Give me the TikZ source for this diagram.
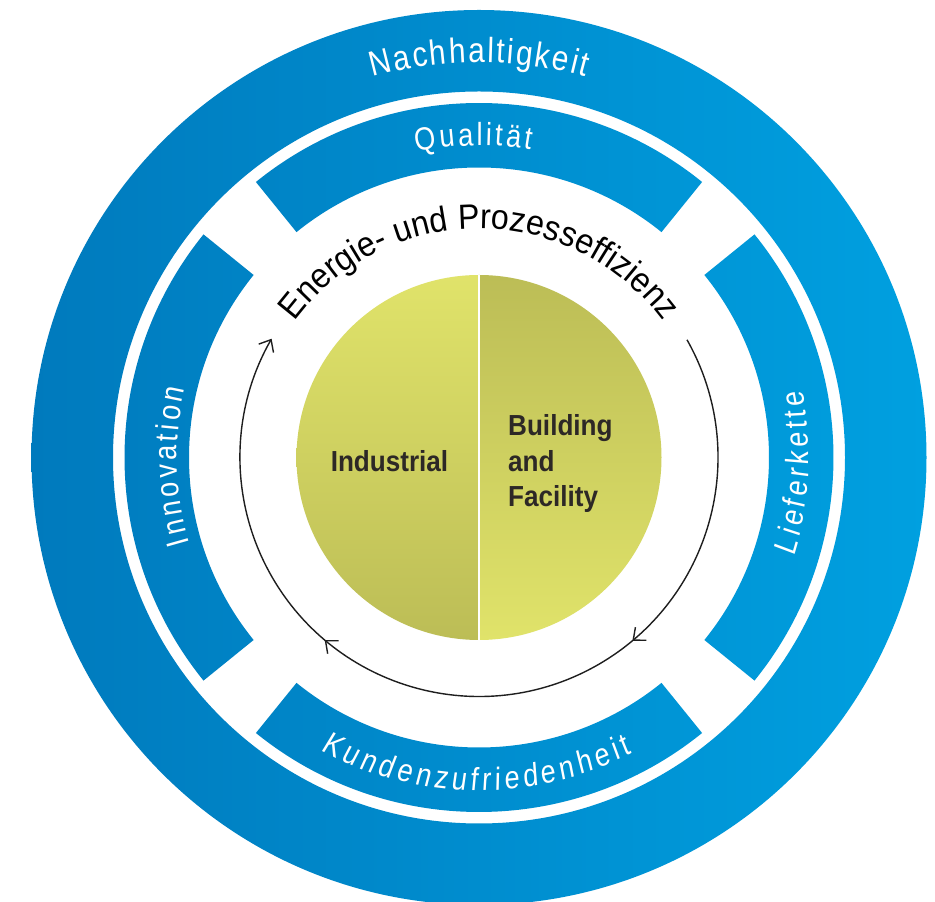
\documentclass[tikz,border=0pt]{standalone}
\usepackage{fontspec}
\setmainfont{Liberation Sans}
\newfontfamily\fRing[FakeStretch=0.85]{Liberation Sans}
\newfontfamily\fRingSl[FakeStretch=0.85,FakeSlant=0.08]{Liberation Sans}
\newfontfamily\fEner[FakeStretch=0.92]{Liberation Sans}
\newfontfamily\condbold[FakeStretch=0.9]{Liberation Sans}
\newcommand\lsNach{\kern2.2pt}
\newcommand\lsQual{\kern3.0pt}
\newcommand\lsInno{\kern3.4pt}
\newcommand\lsLief{\kern4.0pt}
\newcommand\lsKund{\kern4.1pt}
\usetikzlibrary{decorations.text,decorations.markings,arrows.meta}
\definecolor{blueL}{RGB}{0,122,189}
\definecolor{blueR}{RGB}{0,160,224}
\definecolor{greenL}{RGB}{224,227,106}
\definecolor{greenD}{RGB}{188,189,86}
\definecolor{txtdark}{RGB}{45,40,38}
\definecolor{arcink}{RGB}{30,30,30}
\tikzset{
  cyclebarb/.tip={Straight Barb[length=10pt,width=17pt]},
  cyclearc/.style={draw=arcink,line width=1.4pt},
  centertxt/.style={font=\condbold\bfseries\fontsize{29}{35.5}\selectfont,text=txtdark,inner sep=0pt},
}
\begin{document}
\begin{tikzpicture}[x=1pt,y=1pt]
\useasboundingbox (0,0) rectangle (935,902);
\clip (0,0) rectangle (935,902);
\fill[white] (0,0) rectangle (935,902);
\begin{scope}[shift={(479,444.5)}]
  % blue rings
  \begin{scope}[even odd rule]
    \clip (0,0) circle[radius=447.5] (0,0) circle[radius=366]
      (51:354.5) arc[start angle=51,end angle=129,radius=354.5] -- (129:290) arc[start angle=129,end angle=51,radius=290] -- cycle
      (141:354.5) arc[start angle=141,end angle=219,radius=354.5] -- (219:290) arc[start angle=219,end angle=141,radius=290] -- cycle
      (231:354.5) arc[start angle=231,end angle=309,radius=354.5] -- (309:290) arc[start angle=309,end angle=231,radius=290] -- cycle
      (321:354.5) arc[start angle=321,end angle=399,radius=354.5] -- (399:290) arc[start angle=399,end angle=321,radius=290] -- cycle;
    \shade[left color=blueL,right color=blueR] (-448,-448) rectangle (448,448);
  \end{scope}
  % ring texts
  \path[decorate,decoration={text along path,text align=center,
     text={|\fRing\fontsize{35}{35}\selectfont\color{white}|N{\lsNach}a{\lsNach}c{\lsNach}h{\lsNach}h{\lsNach}a{\lsNach}l{\lsNach}t{\lsNach}i{\lsNach}g{\lsNach}k{\lsNach}e{\lsNach}i{\lsNach}t}}]
     (130:395) arc[start angle=130,end angle=50,radius=395];
  \path[decorate,decoration={text along path,text align=center,
     text={|\fRing\fontsize{32}{32}\selectfont\color{white}|Q{\lsQual}u{\lsQual}a{\lsQual}l{\lsQual}i{\lsQual}t{\lsQual}ä{\lsQual}t}}]
     (131:312) arc[start angle=131,end angle=51,radius=312];
  \path[decorate,decoration={text along path,text align=center,
     text={|\fRing\fontsize{32}{32}\selectfont\color{white}|I{\lsInno}n{\lsInno}n{\lsInno}o{\lsInno}v{\lsInno}a{\lsInno}t{\lsInno}i{\lsInno}o{\lsInno}n}}]
     (221.7:302) arc[start angle=221.7,end angle=141.7,radius=302];
  \path[decorate,decoration={text along path,text align=center,
     text={|\fRingSl\fontsize{32}{32}\selectfont\color{white}|L{\lsLief}i{\lsLief}e{\lsLief}f{\lsLief}e{\lsLief}r{\lsLief}k{\lsLief}e{\lsLief}t{\lsLief}t{\lsLief}e}}]
     (-42.9:330) arc[start angle=-42.9,end angle=37.1,radius=330];
  \path[decorate,decoration={text along path,text align=center,
     text={|\fRingSl\fontsize{32}{32}\selectfont\color{white}|K{\lsKund}u{\lsKund}n{\lsKund}d{\lsKund}e{\lsKund}n{\lsKund}z{\lsKund}u{\lsKund}f{\lsKund}r{\lsKund}i{\lsKund}e{\lsKund}d{\lsKund}e{\lsKund}n{\lsKund}h{\lsKund}e{\lsKund}i{\lsKund}t}}]
     (229.5:333) arc[start angle=229.5,end angle=309.5,radius=333];
  % green core
  \shade[top color=greenL,bottom color=greenD] (90:182.5) arc[start angle=90,end angle=270,radius=182.5] -- cycle;
  \shade[top color=greenD,bottom color=greenL] (90:182.5) arc[start angle=90,end angle=-90,radius=182.5] -- cycle;
  \draw[white,line width=2.5pt] (0,182.5) -- (0,-182.5);
  \node[centertxt,anchor=base] (ind) at (-89.5,-14.5) {Industrial};
  \node[centertxt,anchor=base west,align=left] (bf) at (29,-49.5) {Building\\and\\Facility};
  % cycle text and arrow
  \path[decorate,decoration={text along path,text align=center,
     text={|\fEner\fontsize{35}{35}\selectfont\color{black}|Energie- und Prozesseffizienz}}]
     (160:229) arc[start angle=160,end angle=20,radius=229];
  \draw[cyclearc,-{cyclebarb},postaction={decorate},
     decoration={markings,
       mark=at position 0.3326 with {\arrow{cyclebarb}},
       mark=at position 0.6674 with {\arrow{cyclebarb}}}]
     (29.5:239) arc[start angle=29.5,end angle=-209.8,radius=239];
\end{scope}
\end{tikzpicture}
\end{document}
